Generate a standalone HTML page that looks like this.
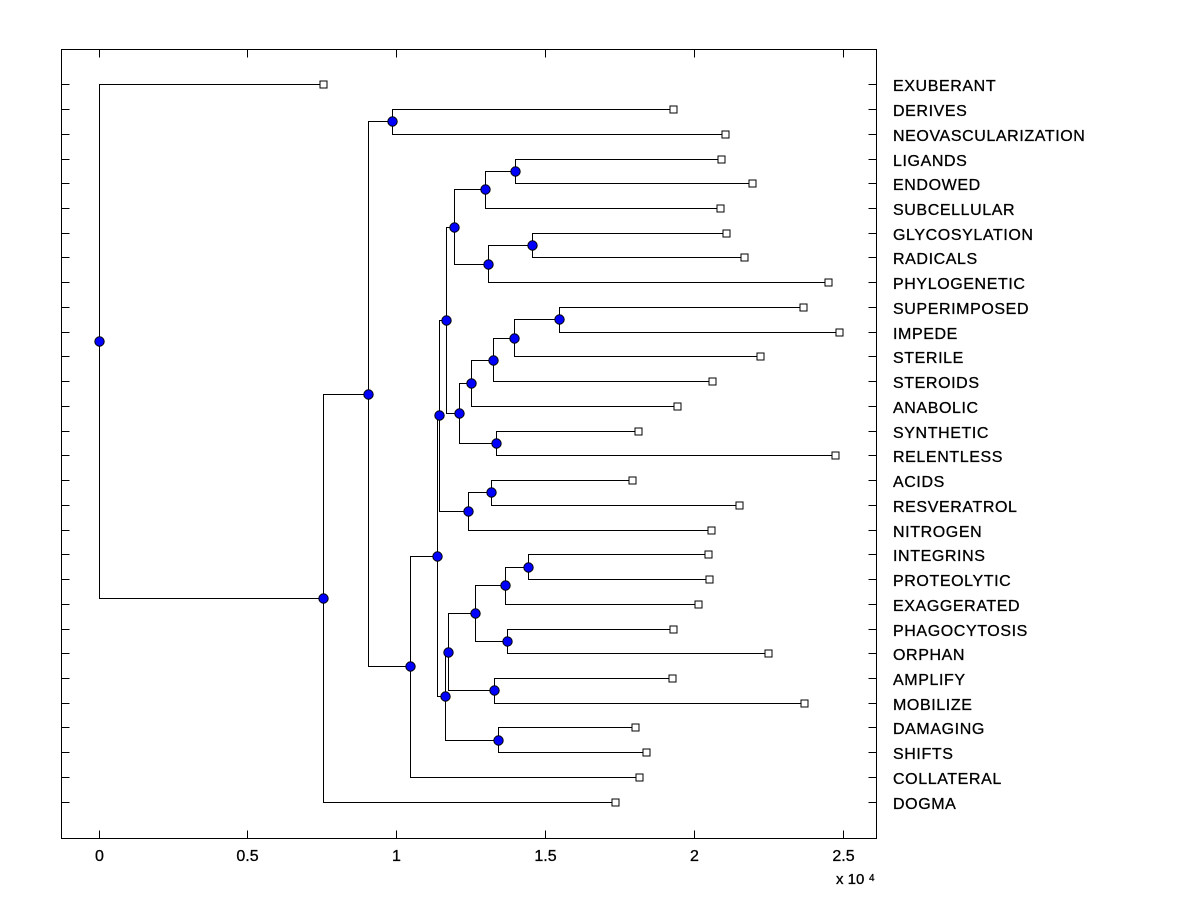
<!DOCTYPE html>
<html>
<head>
<meta charset="utf-8">
<style>
html,body{margin:0;padding:0;background:#fff;}
svg{display:block;}
text{font-family:"Liberation Sans",Arial,sans-serif;fill:#000;stroke:#000;stroke-width:0.3px;}
</style>
</head>
<body>
<svg width="1200" height="900" viewBox="0 0 1200 900" xmlns="http://www.w3.org/2000/svg">
<rect x="0" y="0" width="1200" height="900" fill="#fff"/>
<!-- axes box -->
<rect x="61.5" y="49.5" width="815" height="789" fill="none" stroke="#000" stroke-width="1" shape-rendering="crispEdges"/>
<!-- ticks -->
<g stroke="#000" stroke-width="1" shape-rendering="crispEdges">
<path d="M99.5 49.5V57.5M247.5 49.5V57.5M396.5 49.5V57.5M545.5 49.5V57.5M694.5 49.5V57.5M843.5 49.5V57.5"/>
<path d="M99.5 838.5V830.5M247.5 838.5V830.5M396.5 838.5V830.5M545.5 838.5V830.5M694.5 838.5V830.5M843.5 838.5V830.5"/>
<path d="M61.5 84.5H69.5M61.5 109.5H69.5M61.5 134.5H69.5M61.5 159.5H69.5M61.5 183.5H69.5M61.5 208.5H69.5M61.5 233.5H69.5M61.5 257.5H69.5M61.5 282.5H69.5M61.5 307.5H69.5M61.5 332.5H69.5M61.5 356.5H69.5M61.5 381.5H69.5M61.5 406.5H69.5M61.5 431.5H69.5M61.5 455.5H69.5M61.5 480.5H69.5M61.5 505.5H69.5M61.5 530.5H69.5M61.5 554.5H69.5M61.5 579.5H69.5M61.5 604.5H69.5M61.5 629.5H69.5M61.5 653.5H69.5M61.5 678.5H69.5M61.5 703.5H69.5M61.5 727.5H69.5M61.5 752.5H69.5M61.5 777.5H69.5M61.5 802.5H69.5"/>
<path d="M876.5 84.5H868.5M876.5 109.5H868.5M876.5 134.5H868.5M876.5 159.5H868.5M876.5 183.5H868.5M876.5 208.5H868.5M876.5 233.5H868.5M876.5 257.5H868.5M876.5 282.5H868.5M876.5 307.5H868.5M876.5 332.5H868.5M876.5 356.5H868.5M876.5 381.5H868.5M876.5 406.5H868.5M876.5 431.5H868.5M876.5 455.5H868.5M876.5 480.5H868.5M876.5 505.5H868.5M876.5 530.5H868.5M876.5 554.5H868.5M876.5 579.5H868.5M876.5 604.5H868.5M876.5 629.5H868.5M876.5 653.5H868.5M876.5 678.5H868.5M876.5 703.5H868.5M876.5 727.5H868.5M876.5 752.5H868.5M876.5 777.5H868.5M876.5 802.5H868.5"/>
</g>
<!-- x tick labels -->
<g font-size="16" text-anchor="middle">
<text x="99.5" y="861">0</text>
<text x="247.5" y="861">0.5</text>
<text x="396.5" y="861">1</text>
<text x="545.5" y="861">1.5</text>
<text x="694.5" y="861">2</text>
<text x="843.5" y="861">2.5</text>
</g>
<text x="836" y="884" font-size="15">x 10</text>
<text x="869" y="881" font-size="10">4</text>
<!-- tree lines -->
<g fill="none" stroke="#000" stroke-width="1" shape-rendering="crispEdges">
<path d="M323.5 84.5H99.5V598.5H323.5"/>
<path d="M368.5 394.5H323.5V802.5H615.5"/>
<path d="M392.5 121.5H368.5V666.5H410.5"/>
<path d="M673.5 109.5H392.5V134.5H725.5"/>
<path d="M437.5 556.5H410.5V777.5H639.5"/>
<path d="M439.5 415.5H437.5V696.5H445.5"/>
<path d="M446.5 320.5H439.5V511.5H468.5"/>
<path d="M454.5 227.5H446.5V413.5H459.5"/>
<path d="M485.5 189.5H454.5V264.5H488.5"/>
<path d="M515.5 171.5H485.5V208.5H720.5"/>
<path d="M721.5 159.5H515.5V183.5H752.5"/>
<path d="M532.5 245.5H488.5V282.5H828.5"/>
<path d="M726.5 233.5H532.5V257.5H744.5"/>
<path d="M471.5 383.5H459.5V443.5H496.5"/>
<path d="M493.5 360.5H471.5V406.5H677.5"/>
<path d="M514.5 338.5H493.5V381.5H712.5"/>
<path d="M559.5 319.5H514.5V356.5H760.5"/>
<path d="M803.5 307.5H559.5V332.5H839.5"/>
<path d="M638.5 431.5H496.5V455.5H835.5"/>
<path d="M491.5 492.5H468.5V530.5H711.5"/>
<path d="M632.5 480.5H491.5V505.5H739.5"/>
<path d="M448.5 652.5H445.5V740.5H498.5"/>
<path d="M475.5 613.5H448.5V690.5H494.5"/>
<path d="M505.5 585.5H475.5V641.5H507.5"/>
<path d="M528.5 567.5H505.5V604.5H698.5"/>
<path d="M708.5 554.5H528.5V579.5H709.5"/>
<path d="M673.5 629.5H507.5V653.5H768.5"/>
<path d="M672.5 678.5H494.5V703.5H804.5"/>
<path d="M635.5 727.5H498.5V752.5H646.5"/>
</g>
<!-- leaf squares -->
<g fill="#fff" stroke="#000" stroke-width="1" shape-rendering="crispEdges">
<rect x="320" y="81" width="7" height="7"/>
<rect x="670" y="106" width="7" height="7"/>
<rect x="722" y="131" width="7" height="7"/>
<rect x="718" y="156" width="7" height="7"/>
<rect x="749" y="180" width="7" height="7"/>
<rect x="717" y="205" width="7" height="7"/>
<rect x="723" y="230" width="7" height="7"/>
<rect x="741" y="254" width="7" height="7"/>
<rect x="825" y="279" width="7" height="7"/>
<rect x="800" y="304" width="7" height="7"/>
<rect x="836" y="329" width="7" height="7"/>
<rect x="757" y="353" width="7" height="7"/>
<rect x="709" y="378" width="7" height="7"/>
<rect x="674" y="403" width="7" height="7"/>
<rect x="635" y="428" width="7" height="7"/>
<rect x="832" y="452" width="7" height="7"/>
<rect x="629" y="477" width="7" height="7"/>
<rect x="736" y="502" width="7" height="7"/>
<rect x="708" y="527" width="7" height="7"/>
<rect x="705" y="551" width="7" height="7"/>
<rect x="706" y="576" width="7" height="7"/>
<rect x="695" y="601" width="7" height="7"/>
<rect x="670" y="626" width="7" height="7"/>
<rect x="765" y="650" width="7" height="7"/>
<rect x="669" y="675" width="7" height="7"/>
<rect x="801" y="700" width="7" height="7"/>
<rect x="632" y="724" width="7" height="7"/>
<rect x="643" y="749" width="7" height="7"/>
<rect x="636" y="774" width="7" height="7"/>
<rect x="612" y="799" width="7" height="7"/>
</g>
<!-- internal nodes -->
<g fill="#0000ff" stroke="#000" stroke-width="1">
<circle cx="99.5" cy="341.5" r="4.7"/>
<circle cx="323.5" cy="598.5" r="4.7"/>
<circle cx="368.5" cy="394.5" r="4.7"/>
<circle cx="392.5" cy="121.5" r="4.7"/>
<circle cx="410.5" cy="666.5" r="4.7"/>
<circle cx="437.5" cy="556.5" r="4.7"/>
<circle cx="439.5" cy="415.5" r="4.7"/>
<circle cx="445.5" cy="696.5" r="4.7"/>
<circle cx="446.5" cy="320.5" r="4.7"/>
<circle cx="454.5" cy="227.5" r="4.7"/>
<circle cx="485.5" cy="189.5" r="4.7"/>
<circle cx="515.5" cy="171.5" r="4.7"/>
<circle cx="488.5" cy="264.5" r="4.7"/>
<circle cx="532.5" cy="245.5" r="4.7"/>
<circle cx="459.5" cy="413.5" r="4.7"/>
<circle cx="471.5" cy="383.5" r="4.7"/>
<circle cx="493.5" cy="360.5" r="4.7"/>
<circle cx="514.5" cy="338.5" r="4.7"/>
<circle cx="559.5" cy="319.5" r="4.7"/>
<circle cx="496.5" cy="443.5" r="4.7"/>
<circle cx="468.5" cy="511.5" r="4.7"/>
<circle cx="491.5" cy="492.5" r="4.7"/>
<circle cx="448.5" cy="652.5" r="4.7"/>
<circle cx="475.5" cy="613.5" r="4.7"/>
<circle cx="505.5" cy="585.5" r="4.7"/>
<circle cx="528.5" cy="567.5" r="4.7"/>
<circle cx="507.5" cy="641.5" r="4.7"/>
<circle cx="494.5" cy="690.5" r="4.7"/>
<circle cx="498.5" cy="740.5" r="4.7"/>
</g>
<!-- leaf labels -->
<g font-size="16" letter-spacing="0.6">
<text x="893" y="91">EXUBERANT</text>
<text x="893" y="116">DERIVES</text>
<text x="893" y="141">NEOVASCULARIZATION</text>
<text x="893" y="166">LIGANDS</text>
<text x="893" y="190">ENDOWED</text>
<text x="893" y="215">SUBCELLULAR</text>
<text x="893" y="240">GLYCOSYLATION</text>
<text x="893" y="264">RADICALS</text>
<text x="893" y="289">PHYLOGENETIC</text>
<text x="893" y="314">SUPERIMPOSED</text>
<text x="893" y="339">IMPEDE</text>
<text x="893" y="363">STERILE</text>
<text x="893" y="388">STEROIDS</text>
<text x="893" y="413">ANABOLIC</text>
<text x="893" y="438">SYNTHETIC</text>
<text x="893" y="462">RELENTLESS</text>
<text x="893" y="487">ACIDS</text>
<text x="893" y="512">RESVERATROL</text>
<text x="893" y="537">NITROGEN</text>
<text x="893" y="561">INTEGRINS</text>
<text x="893" y="586">PROTEOLYTIC</text>
<text x="893" y="611">EXAGGERATED</text>
<text x="893" y="636">PHAGOCYTOSIS</text>
<text x="893" y="660">ORPHAN</text>
<text x="893" y="685">AMPLIFY</text>
<text x="893" y="710">MOBILIZE</text>
<text x="893" y="734">DAMAGING</text>
<text x="893" y="759">SHIFTS</text>
<text x="893" y="784">COLLATERAL</text>
<text x="893" y="809">DOGMA</text>
</g>
</svg>
</body>
</html>
